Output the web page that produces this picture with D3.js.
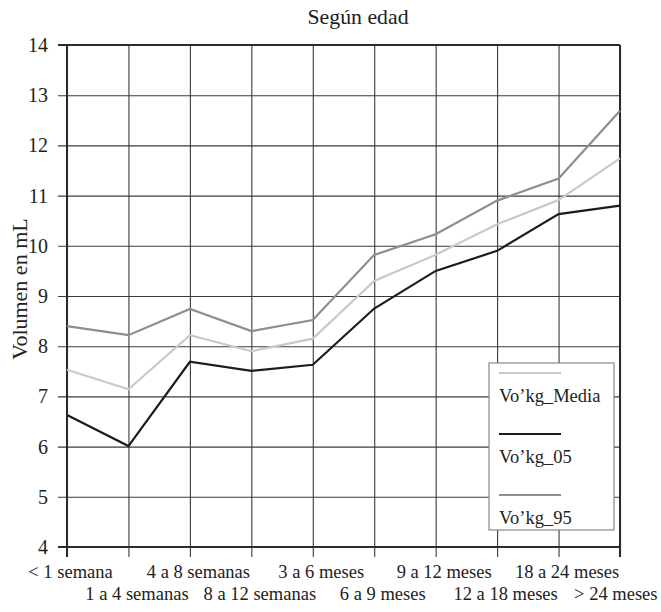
<!DOCTYPE html>
<html>
<head>
<meta charset="utf-8">
<script src="https://cdn.jsdelivr.net/npm/d3@7"></script>
<style>
  html, body { margin: 0; padding: 0; background: #fff; }
  svg { display: block; font-family: "Liberation Serif", "Times New Roman", serif; }
</style>
</head>
<body>
<svg id="chart" width="661" height="612"></svg>
<script>
// Age groups on the horizontal axis
const categories = [
  "< 1 semana", "1 a 4 semanas", "4 a 8 semanas", "8 a 12 semanas",
  "3 a 6 meses", "6 a 9 meses", "9 a 12 meses", "12 a 18 meses",
  "18 a 24 meses", "> 24 meses"
];

// Volume per kg (mL) for each age group
const media = [7.53, 7.14, 8.22, 7.90, 8.15, 9.30, 9.82, 10.43, 10.91, 11.74];
const p05   = [6.63, 6.01, 7.69, 7.51, 7.63, 8.75, 9.50, 9.90, 10.63, 10.80];
const p95   = [8.40, 8.22, 8.74, 8.30, 8.52, 9.82, 10.23, 10.90, 11.34, 12.69];

const yTicks = [4, 5, 6, 7, 8, 9, 10, 11, 12, 13, 14];

const series = [
  { name: "Vo’kg_Media", values: media, color: "#c9c9c9" },
  { name: "Vo’kg_05",    values: p05,   color: "#1c1c1c" },
  { name: "Vo’kg_95",    values: p95,   color: "#8e8e8e" }
];

const svg = d3.select("#chart");
const plotLeft = 67, plotRight = 620, plotTop = 45, plotBottom = 547;

const x = d3.scalePoint().domain(categories).range([plotLeft, plotRight]);
const y = d3.scaleLinear().domain([4, 14]).range([plotBottom, plotTop]);

// Title
svg.append("text")
  .attr("x", 358).attr("y", 24)
  .attr("text-anchor", "middle")
  .attr("font-size", 21.8)
  .attr("fill", "#222")
  .text("Según edad");

// Y axis title
svg.append("text")
  .attr("transform", "translate(27,289) rotate(-90)")
  .attr("text-anchor", "middle")
  .attr("font-size", 22)
  .attr("fill", "#222")
  .text("Volumen en mL");

// Horizontal grid + y tick labels
const yAxis = svg.append("g")
  .attr("transform", `translate(${plotLeft - 9},0)`)
  .call(d3.axisLeft(y).tickValues(yTicks).tickFormat(d3.format("d"))
    .tickSize(-(plotRight - plotLeft + 9)).tickPadding(10));
yAxis.select(".domain").remove();
yAxis.selectAll(".tick line").attr("stroke", "#3a3a3a").attr("stroke-width", 1.1);
yAxis.selectAll(".tick text")
  .attr("font-size", 20).attr("fill", "#222")
  .attr("font-family", "Liberation Serif, Times New Roman, serif");

// Vertical grid + staggered category labels
const xAxis = svg.append("g")
  .attr("transform", `translate(0,${plotBottom + 10})`)
  .call(d3.axisBottom(x).tickSize(-(plotBottom + 10 - plotTop)).tickPadding(0));
xAxis.select(".domain").remove();
xAxis.selectAll(".tick line").attr("stroke", "#3a3a3a").attr("stroke-width", 1.1);
xAxis.selectAll(".tick text")
  .attr("font-size", 18.5).attr("fill", "#222")
  .attr("font-family", "Liberation Serif, Times New Roman, serif")
  .attr("dy", null)
  .attr("y", (d, i) => i % 2 === 0 ? 20.5 : 43)
  .attr("x", (d, i) => i === 0 ? 3 : 8)
  .each(function (d, i) {
    if (i === categories.length - 1) {
      d3.select(this).attr("text-anchor", "end").attr("x", 657 - x(d));
    }
  });

// Plot frame
const frame = svg.append("g").attr("stroke", "#2a2a2a").attr("stroke-width", 2).attr("fill", "none");
frame.append("line").attr("x1", plotLeft - 9).attr("x2", plotRight).attr("y1", y(14)).attr("y2", y(14));
frame.append("line").attr("x1", plotLeft - 9).attr("x2", plotRight).attr("y1", y(4)).attr("y2", y(4));
frame.append("line").attr("x1", plotLeft).attr("x2", plotLeft).attr("y1", y(14)).attr("y2", plotBottom + 10);
frame.append("line").attr("x1", plotRight).attr("x2", plotRight).attr("y1", y(14)).attr("y2", plotBottom + 10);

// Series lines
const line = d3.line()
  .x((d, i) => x(categories[i]))
  .y(d => y(d));

svg.append("g").selectAll("path")
  .data(series)
  .join("path")
  .attr("d", s => line(s.values))
  .attr("fill", "none")
  .attr("stroke", s => s.color)
  .attr("stroke-width", 2.2)
  .attr("stroke-linejoin", "miter");

// Legend
const lg = svg.append("g").attr("transform", "translate(489,363)");
lg.append("rect")
  .attr("width", 125).attr("height", 167)
  .attr("fill", "#fff").attr("stroke", "#888").attr("stroke-width", 1.2);
const item = lg.selectAll("g.item")
  .data(series)
  .join("g")
  .attr("class", "item")
  .attr("transform", (d, i) => `translate(10,${10 + i * 61})`);
item.append("line")
  .attr("x1", 0).attr("x2", 62).attr("y1", 0).attr("y2", 0)
  .attr("stroke", d => d.color).attr("stroke-width", 2.2);
item.append("text")
  .attr("x", 0).attr("y", 29)
  .attr("font-size", 18.5).attr("fill", "#222")
  .text(d => d.name);
</script>
</body>
</html>
